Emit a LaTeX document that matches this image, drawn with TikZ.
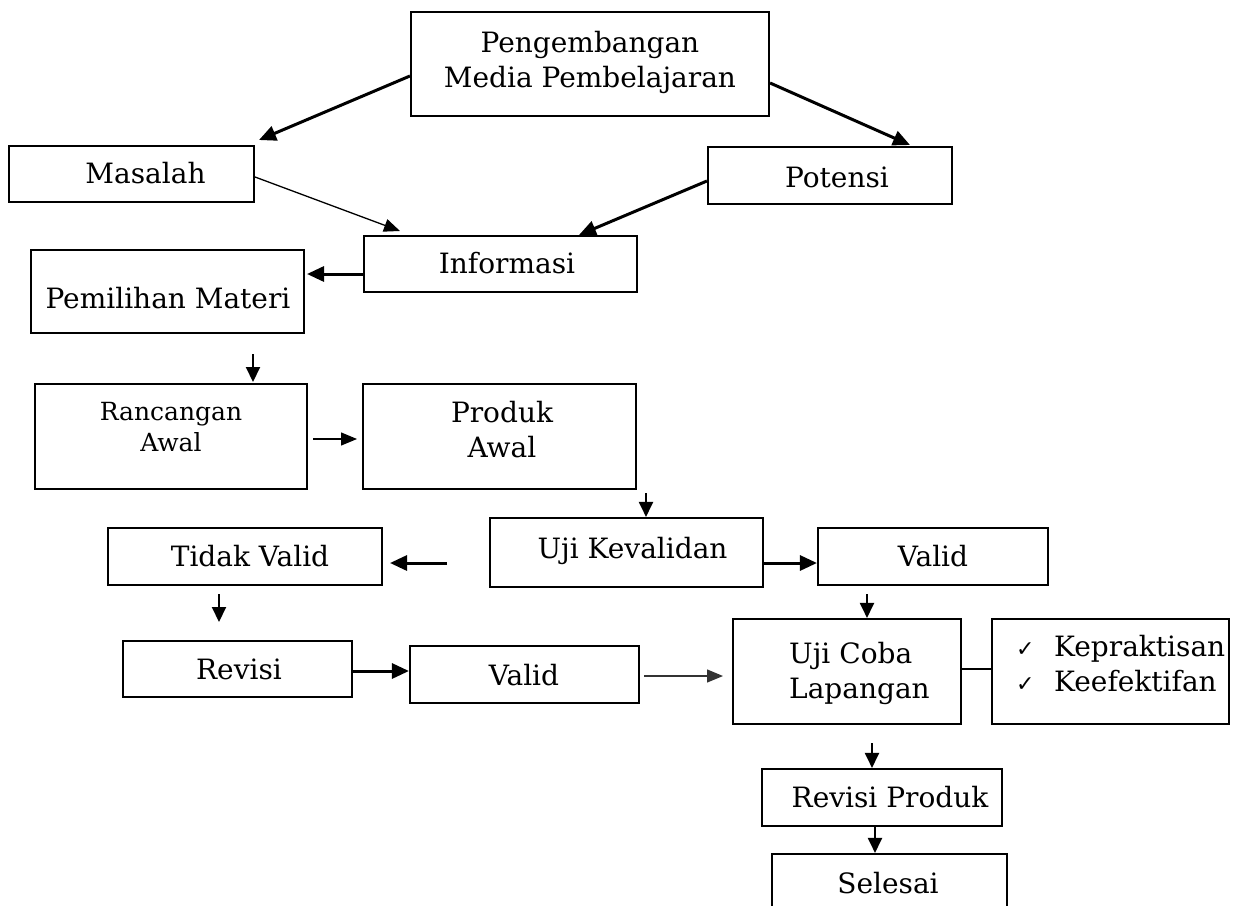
\documentclass[tikz,border=0pt]{standalone}
\usepackage{fontspec}
\setmainfont{DejaVu Serif}
\newfontfamily\symfont{DejaVu Sans}
\usetikzlibrary{arrows.meta}
\begin{document}
\begin{tikzpicture}[x=1pt,y=-1pt,
  box/.style={draw, line width=2.1pt, inner sep=0pt},
  txt/.style={inner sep=0pt, align=center, font=\fontsize{28}{35}\selectfont},
  smalltxt/.style={inner sep=0pt, align=center, font=\fontsize{25}{31}\selectfont},
  thickarr/.style={line width=3pt, -{Triangle[length=17pt,width=15pt]}},
  medarr/.style={line width=2pt, -{Triangle[length=15pt,width=14pt]}},
  thinarr/.style={line width=1.3pt, -{Triangle[length=16pt,width=13pt]}},
  plainline/.style={line width=2.2pt}
]
\useasboundingbox (0,0) rectangle (1239,905);
\clip (0,0) rectangle (1239,905);

% boxes
\node[box, minimum width=358pt, minimum height=104pt] (top) at (590,64) {};
\node[box, minimum width=245pt, minimum height=56pt] (masalah) at (131.5,174) {};
\node[box, minimum width=244pt, minimum height=57pt] (potensi) at (830,175.5) {};
\node[box, minimum width=273pt, minimum height=56pt] (info) at (500.5,264) {};
\node[box, minimum width=273pt, minimum height=83pt] (pemilihan) at (167.5,291.5) {};
\node[box, minimum width=272pt, minimum height=105pt] (rancangan) at (171,436.5) {};
\node[box, minimum width=273pt, minimum height=105pt] (produk) at (499.5,436.5) {};
\node[box, minimum width=273pt, minimum height=69pt] (ujikev) at (626.5,552.5) {};
\node[box, minimum width=274pt, minimum height=57pt] (tidak) at (245,556.5) {};
\node[box, minimum width=230pt, minimum height=57pt] (valid1) at (933,556.5) {};
\node[box, minimum width=229pt, minimum height=56pt] (revisi) at (237.5,669) {};
\node[box, minimum width=229pt, minimum height=57pt] (valid2) at (524.5,674.5) {};
\node[box, minimum width=228pt, minimum height=105pt] (ujicoba) at (847,671.5) {};
\node[box, minimum width=237pt, minimum height=105pt] (check) at (1110.5,671.5) {};
\node[box, minimum width=240pt, minimum height=57pt] (revproduk) at (882,797.5) {};
\node[box, minimum width=235pt, minimum height=80pt] (selesai) at (889.5,894) {};

% texts
\node[txt] (ttop) at (590,62) {Pengembangan\\Media Pembelajaran};
\node[txt] (tmasalah) at (145.5,173) {Masalah};
\node[txt] (tpotensi) at (837,177) {Potensi};
\node[txt] (tinfo) at (507,263) {Informasi};
\node[txt] (tpemilihan) at (168,298) {Pemilihan Materi};
\node[smalltxt] (trancangan) at (171,427.5) {Rancangan\\Awal};
\node[txt] (tproduk) at (502,429.5) {Produk\\Awal};
\node[txt] (tujikev) at (632.5,551) {Uji Kevalidan};
\node[txt] (ttidak) at (250,556) {Tidak Valid};
\node[txt] (tvalid1) at (933,556) {Valid};
\node[txt] (trevisi) at (239,669) {Revisi};
\node[txt] (tvalid2) at (524,675) {Valid};
\node[txt, align=left, anchor=west] (tujicoba) at (789,673) {Uji Coba\\Lapangan};
\node[txt, align=left, anchor=west] (tcheck) at (1016,663.5)
  {\makebox[38pt][l]{\symfont\fontsize{22}{22}\selectfont ✓}Kepraktisan\\
   \makebox[38pt][l]{\symfont\fontsize{22}{22}\selectfont ✓}Keefektifan};
\node[txt] (trevproduk) at (890,797) {Revisi Produk};
\node[txt] (tselesai) at (888,883) {Selesai};

% free ends of connectors
\coordinate (e1) at (259,140);
\coordinate (e2) at (910,145);
\coordinate (e3) at (400,231);
\coordinate (e4) at (579,235);
\coordinate (e5) at (307,274);
\coordinate (s6) at (253,354);
\coordinate (e6) at (253,382);
\coordinate (s7) at (313,439);
\coordinate (e7) at (357,439);
\coordinate (s8) at (646,493);
\coordinate (s9) at (447,563);
\coordinate (e9) at (390,563);
\coordinate (s11) at (219,594);
\coordinate (e11) at (219,622);
\coordinate (s13) at (644,676);
\coordinate (e13) at (723,676);
\coordinate (s14) at (867,594);
\coordinate (s15) at (872,743);

% connectors
\draw[thickarr] ([yshift=-12pt]top.west) -- (e1);
\draw[thickarr] ([yshift=-19pt]top.east) -- (e2);
\draw[thinarr] ([yshift=-3pt]masalah.east) -- (e3);
\draw[thickarr] ([yshift=-5.5pt]potensi.west) -- (e4);
\draw[thickarr] ([yshift=-10pt]info.west) -- (e5);
\draw[medarr] (s6) -- (e6);
\draw[thinarr] (s7) -- (e7);
\draw[medarr] (s8) -- (s8 |- ujikev.north);
\draw[thickarr] (s9) -- (e9);
\draw[thickarr] ([yshift=-10.5pt]ujikev.east) -- ([yshift=-6.5pt]valid1.west);
\draw[medarr] (s11) -- (e11);
\draw[thickarr] ([yshift=-2pt]revisi.east) -- ([yshift=3.5pt]valid2.west);
\draw[thinarr, draw=black!80] (s13) -- (e13);
\draw[medarr] (s14) -- (s14 |- ujicoba.north);
\draw[medarr] (s15) -- (s15 |- revproduk.north);
\draw[medarr] (revproduk.south -| 875,0) -- (875,0 |- selesai.north);
\draw[plainline] ([yshift=2.5pt]ujicoba.east) -- ([yshift=2.5pt]check.west);
\end{tikzpicture}
\end{document}
